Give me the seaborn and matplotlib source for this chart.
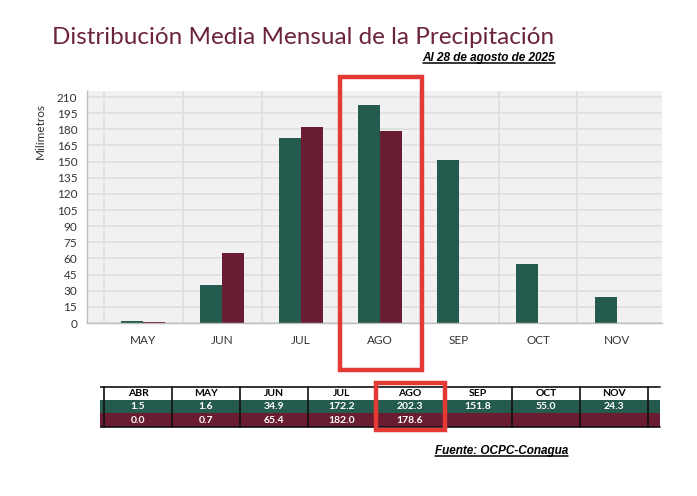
import matplotlib
matplotlib.use("Agg")
import matplotlib.pyplot as plt
import seaborn as sns
import pandas as pd
import numpy as np
from matplotlib.patches import Rectangle
from matplotlib.lines import Line2D

# ---------------- data ----------------
months = ["ABR", "MAY", "JUN", "JUL", "AGO", "SEP", "OCT", "NOV"]
media = [1.5, 1.6, 34.9, 172.2, 202.3, 151.8, 55.0, 24.3]
y2025 = [0.0, 0.7, 65.4, 182.0, 178.6, np.nan, np.nan, np.nan]
series = ["Media", "2025"]
yticks = list(range(0, 211, 15))
title = "Distribución Media Mensual de la Precipitación"
subtitle = "Al 28 de agosto de 2025"
source = "Fuente: OCPC-Conagua"
ylabel = "Milímetros"
highlight = "AGO"

GREEN = "#245B4E"
MAROON = "#691C32"
RED = "#E53935"

df = pd.DataFrame({
    "mes": months * 2,
    "serie": [series[0]] * len(months) + [series[1]] * len(months),
    "mm": media + y2025,
})

sns.set_style("white")
plt.rcParams["font.family"] = ["Lato", "DejaVu Sans"]

W, H = 697, 496
fig = plt.figure(figsize=(W / 100, H / 100), dpi=100)


def fx(px):
    return px / W


def fy(py):
    return 1 - py / H


# ---------------- chart ----------------
ax = fig.add_axes([fx(87), fy(323), fx(662) - fx(87), fy(91) - fy(323)])
sns.barplot(data=df, x="mes", y="mm", hue="serie", order=months,
            hue_order=series, palette=[GREEN, MAROON], width=0.56, gap=0,
            saturation=1, ax=ax, legend=False, errorbar=None, linewidth=0)
ax.set_facecolor("#F1F1F1")
ax.set_yticks(yticks)
ax.set_yticklabels([str(t) for t in yticks], fontsize=8.5, color="#333333")
ax.set_xticks(range(len(months)))
ax.set_xticklabels(months, fontsize=8.5, color="#333333")
ax.set_xticks(np.arange(len(months)) - 0.5, minor=True)
ax.set_xlim(0.29, 7.57)
ax.set_ylim(0, 215.6)
ax.tick_params(axis="x", which="major", length=0, pad=9)
ax.tick_params(axis="x", which="minor", length=4, color="#BDBDBD", width=1)
ax.tick_params(axis="y", which="major", length=4, color="#BDBDBD", width=1, pad=3)
ax.grid(axis="y", which="major", color="#E0E0E0", lw=1.3)
ax.grid(axis="x", which="minor", color="#E0E0E0", lw=1.3)
ax.set_axisbelow(True)
for s in ["top", "right"]:
    ax.spines[s].set_visible(False)
for s in ["left", "bottom"]:
    ax.spines[s].set_color("#BDBDBD")
    ax.spines[s].set_linewidth(1)
ax.set_xlabel("")
ax.set_ylabel("")

fig.text(fx(40), fy(131), ylabel, rotation=90, ha="center", va="center",
         fontsize=8.5, color="#333333")

# ---------------- titles ----------------
fig.text(fx(52), fy(38), title, ha="left", va="center", fontsize=17.5,
         color="#6B2438")
sub = fig.text(fx(555), fy(58), subtitle, ha="right", va="center", fontsize=8.5,
               fontweight="bold", fontstyle="italic", color="black",
               family=["Liberation Sans", "DejaVu Sans"])
src = fig.text(fx(568), fy(451), source, ha="right", va="center", fontsize=8.5,
               fontweight="bold", fontstyle="italic", color="black",
               family=["Liberation Sans", "DejaVu Sans"])

# ---------------- table ----------------
tax = fig.add_axes([fx(100), fy(428), fx(662) - fx(100), fy(385) - fy(428)])
tax.set_xlim(100, 662)
tax.set_ylim(428, 385)
tax.axis("off")
col_w = 68
x0 = 104
rows = [(387, 400, "white", "black", months),
        (400, 413, GREEN, "white", media),
        (413, 427, MAROON, "white", y2025)]
ncol = len(months)
for (top, bot, fc, tc, vals) in rows:
    tax.add_patch(Rectangle((100, top), x0 - 100, bot - top, fc=fc, ec="none"))
    tax.add_patch(Rectangle((x0 + ncol * col_w, top), 12, bot - top, fc=fc, ec="none"))
    for j, v in enumerate(vals):
        left = x0 + j * col_w
        tax.add_patch(Rectangle((left, top), col_w, bot - top, fc=fc, ec="none"))
        if isinstance(v, str):
            txt = v
        else:
            txt = "" if (v is None or np.isnan(v)) else f"{v:.1f}"
        tax.text(left + col_w / 2, (top + bot) / 2 + 0.3, txt, ha="center",
                 va="center", fontsize=7.5, fontweight="bold", color=tc)
for j in range(ncol + 1):
    xx = x0 + j * col_w
    tax.plot([xx, xx], [387, 427], color="#111111", lw=1.2)
tax.plot([100, 660], [387, 387], color="#111111", lw=1.2)
tax.plot([100, 660], [427, 427], color="#111111", lw=1.2)

# ---------------- highlight boxes ----------------
fig.patches.append(Rectangle((fx(340), fy(370)), fx(422) - fx(340), fy(77) - fy(370),
                             transform=fig.transFigure, fill=False, ec=RED, lw=3.2))
fig.patches.append(Rectangle((fx(376), fy(430)), fx(445) - fx(376), fy(383) - fy(430),
                             transform=fig.transFigure, fill=False, ec=RED, lw=3.2))

# ---------------- underlines ----------------
fig.canvas.draw()
r = fig.canvas.get_renderer()
for t in (sub, src):
    bb = t.get_window_extent(renderer=r).transformed(fig.transFigure.inverted())
    fig.add_artist(Line2D([bb.x0, bb.x1], [bb.y0 + 0.002, bb.y0 + 0.002],
                          transform=fig.transFigure, color="black", lw=1.1))

fig.savefig("out.png", dpi=100, facecolor="white")
